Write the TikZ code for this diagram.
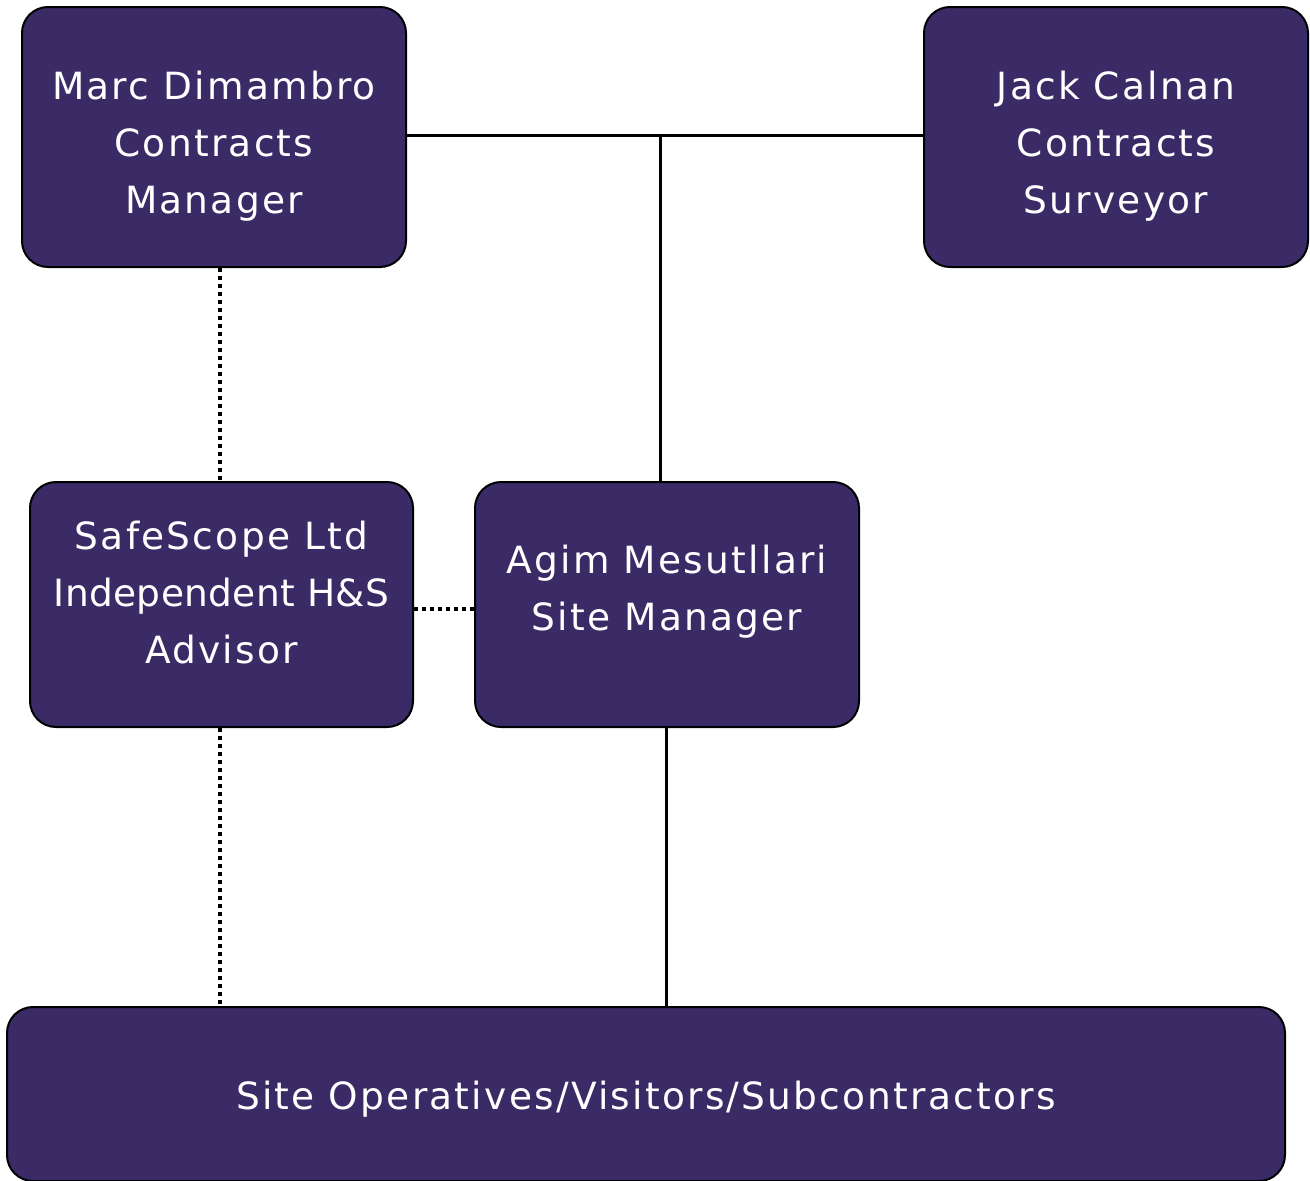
\documentclass[tikz,border=0pt]{standalone}
\usepackage{fontspec}
\setmainfont{DejaVu Sans}[LetterSpace=6]
\definecolor{boxfill}{HTML}{3A2B67}
\newcommand\boxlines[2]{\raisebox{#1}[\height][\depth]{\begin{tabular}{@{}c@{}}#2\end{tabular}}}
\begin{document}
\begin{tikzpicture}[x=1pt,y=-1pt,
  orgbox/.style={draw=black, line width=2pt, fill=boxfill, rounded corners=26pt,
    text=white, font=\fontsize{37.5}{57}\selectfont, inner sep=0pt},
  solidline/.style={line width=3pt},
  dotline/.style={line width=3.5pt, dash pattern=on 3.5pt off 4.5pt}]
\useasboundingbox (0,0) rectangle (1310,1181);
\node[orgbox, minimum width=384pt, minimum height=260pt] (marc) at (214,137) {\boxlines{-8pt}{Marc Dimambro\\Contracts\\Manager}};
\node[orgbox, minimum width=384pt, minimum height=260pt] (jack) at (1116,137) {\boxlines{-8pt}{Jack Calnan\\Contracts\\Surveyor}};
\node[orgbox, minimum width=383pt, minimum height=245pt] (safe) at (221.5,604.5) {\boxlines{9pt}{SafeScope Ltd\\{\addfontfeature{LetterSpace=1}Independent H\&S}\\Advisor}};
\node[orgbox, minimum width=384pt, minimum height=245pt] (agim) at (667,604.5) {\boxlines{14pt}{Agim Mesutllari\\Site Manager}};
\node[orgbox, minimum width=1278pt, minimum height=174pt] (site) at (646,1094) {\boxlines{-4pt}{Site Operatives/Visitors/Subcontractors}};
\coordinate (junc) at (660,135);
\draw[solidline] (marc.east |- junc) -- (jack.west |- junc);
\draw[solidline] (junc) -- (junc |- agim.north);
\draw[dotline] (220,0 |- marc.south) -- (220,0 |- safe.north);
\draw[dotline] (safe.east |- 0,609) -- (agim.west |- 0,609);
\draw[dotline] (220,0 |- safe.south) -- (220,0 |- site.north);
\draw[solidline] (666,0 |- agim.south) -- (666,0 |- site.north);
\end{tikzpicture}
\end{document}
